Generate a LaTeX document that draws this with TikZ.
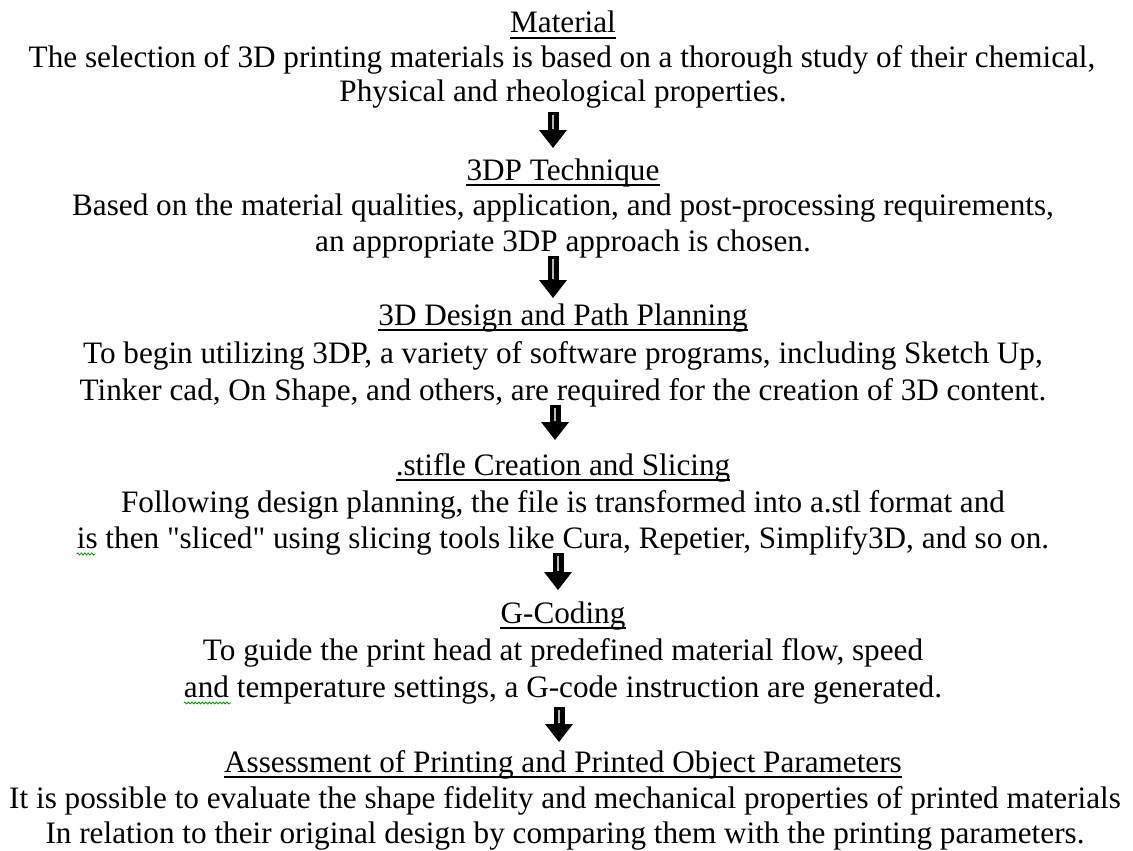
\documentclass[tikz,border=0pt]{standalone}
\usepackage{fontspec}
\setmainfont{Liberation Serif}[Ligatures=TeXOff]
\usetikzlibrary{calc,decorations.pathmorphing}
\newcommand{\blkarrow}[2]{%
  \fill ($(#1)+(-5.5,0)$) rectangle ($(#2)+(5.5,-17)$);
  \fill ($(#2)+(-14,-18)$) -- ($(#2)+(14,-18)$) -- (#2) -- cycle;
  \draw[gray!55,line width=2pt] ($(#1)+(0,2.5)$) -- ($(#2)+(0,-19)$);
}
\begin{document}
\begin{tikzpicture}[x=1pt,y=-1pt,
  txt/.style={anchor=base,inner sep=0pt,font=\fontsize{31.2}{34}\selectfont},
  ul/.style={line width=1.4pt},
  squig/.style={draw=green!60!black,line width=0.8pt,decorate,
    decoration={snake,amplitude=1pt,segment length=3.5pt}}]
\useasboundingbox (0,0) rectangle (1133,851);
\fill[white] (0,0) rectangle (1133,851);
% Section 1
\node[txt] (t1) at (563,33) {Material};
\node[txt] (l1a) at (562,68) {The selection of 3D printing materials is based on a thorough study of their chemical,};
\node[txt] (l1b) at (563,102) {Physical and rheological properties.};
% Section 2
\node[txt] (t2) at (563,180) {3DP Technique};
\node[txt] (l2a) at (563,215) {Based on the material qualities, application, and post-processing requirements,};
\node[txt] (l2b) at (563,251) {an appropriate 3DP approach is chosen.};
% Section 3
\node[txt] (t3) at (563,325) {3D Design and Path Planning};
\node[txt] (l3a) at (563,363) {To begin utilizing 3DP, a variety of software programs, including Sketch Up,};
\node[txt] (l3b) at (563,400) {Tinker cad, On Shape, and others, are required for the creation of 3D content.};
% Section 4
\node[txt] (t4) at (563,475) {.stifle Creation and Slicing};
\node[txt] (l4a) at (563,512) {Following design planning, the file is transformed into a.stl format and};
\node[txt] (l4b) at (563,548) {is then "sliced" using slicing tools like Cura, Repetier, Simplify3D, and so on.};
% Section 5
\node[txt] (t5) at (563,623) {G-Coding};
\node[txt] (l5a) at (563,660) {To guide the print head at predefined material flow, speed};
\node[txt] (l5b) at (563,697) {and temperature settings, a G-code instruction are generated.};
% Section 6
\node[txt] (t6) at (563,772) {Assessment of Printing and Printed Object Parameters};
\node[txt] (l6a) at (565,808) {It is possible to evaluate the shape fidelity and mechanical properties of printed materials};
\node[txt] (l6b) at (565,843) {In relation to their original design by comparing them with the printing parameters.};
% underlines
\foreach \t in {t1,t2,t3,t4,t5,t6}
  \draw[ul] ([yshift=-5pt]\t.base west) -- ([yshift=-5pt]\t.base east);
% spell-check squiggles
\draw[squig] ([yshift=-6pt]l4b.base west) -- ++(18,0);
\draw[squig] ([yshift=-6pt]l5b.base west) -- ++(47,0);
% arrows
\coordinate (a1s) at (553,112); \coordinate (a1e) at (553,148);
\coordinate (a2s) at (553,256); \coordinate (a2e) at (553,298);
\coordinate (a3s) at (555,405); \coordinate (a3e) at (555,440);
\coordinate (a4s) at (558,553); \coordinate (a4e) at (558,590);
\coordinate (a5s) at (559,707); \coordinate (a5e) at (559,742);
\blkarrow{a1s}{a1e}
\blkarrow{a2s}{a2e}
\blkarrow{a3s}{a3e}
\blkarrow{a4s}{a4e}
\blkarrow{a5s}{a5e}
\end{tikzpicture}
\end{document}
